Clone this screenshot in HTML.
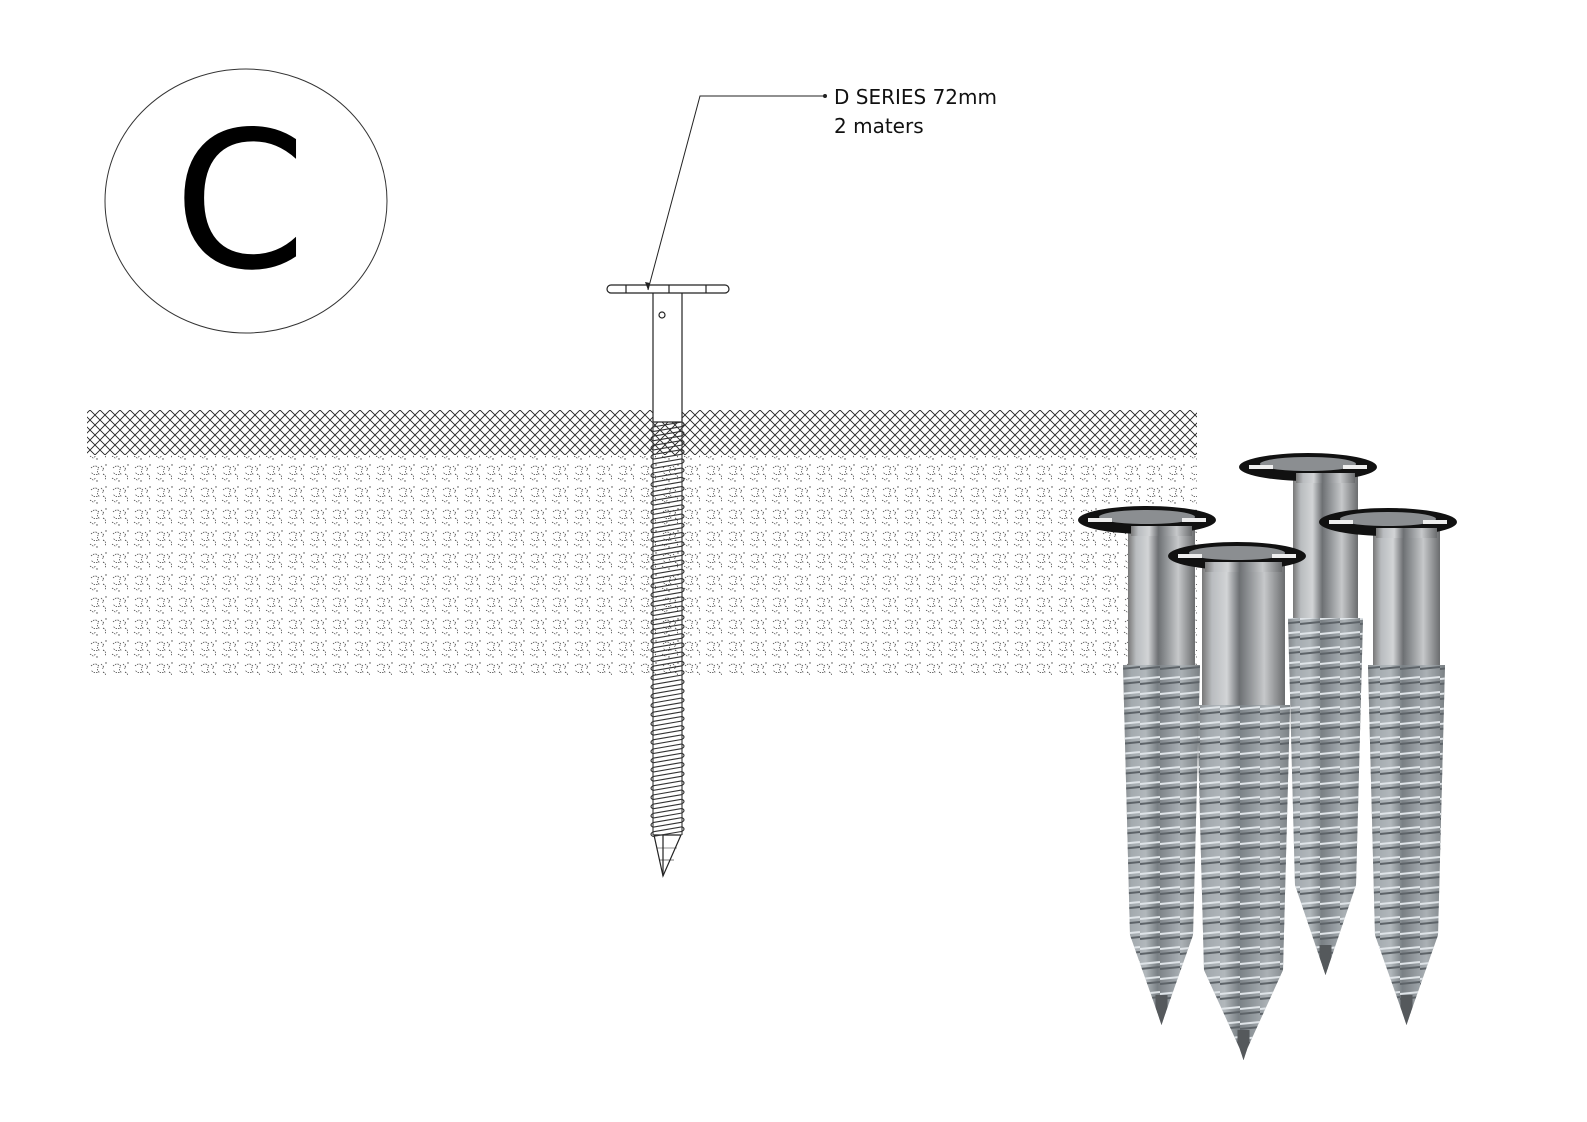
<!DOCTYPE html>
<html><head><meta charset="utf-8"><style>
html,body{margin:0;padding:0;background:#fff}
svg{display:block}
text{font-family:"DejaVu Sans","Liberation Sans",sans-serif}
</style></head><body>
<svg id="s" width="1587" height="1122" viewBox="0 0 1587 1122" xmlns="http://www.w3.org/2000/svg">
<defs>
<pattern id="hatch" width="10" height="10" patternUnits="userSpaceOnUse">
<path d="M0 0L10 10M10 0L0 10" stroke="#222" stroke-width="0.9"/>
</pattern>
<pattern id="speck" width="22" height="22" patternUnits="userSpaceOnUse">
<path d="M3 6q4-4 8 0q-3 3 0 6q-5 2-8-2M13 4l3 3l-2 2M15 12q4 2 2 6M2 16l3 2l3-2" stroke="#333" stroke-width="0.7" fill="none" stroke-dasharray="1.5 1"/>
<circle cx="18" cy="3" r="0.7" fill="#444"/><circle cx="9" cy="19" r="0.7" fill="#444"/>
</pattern>
<linearGradient id="shaft" x1="0" x2="1" y1="0" y2="0">
<stop offset="0" stop-color="#777"/><stop offset="0.12" stop-color="#b9bcbf"/>
<stop offset="0.3" stop-color="#d2d4d6"/><stop offset="0.45" stop-color="#6d7073"/>
<stop offset="0.55" stop-color="#8a8d90"/><stop offset="0.75" stop-color="#c6c8ca"/>
<stop offset="1" stop-color="#6a6c6e"/>
</linearGradient>
<pattern id="thread" width="20" height="15" patternUnits="userSpaceOnUse">
<path d="M0 4L20 2" stroke="#dfe4e8" stroke-width="2"/>
<path d="M0 9L20 7" stroke="#5d6368" stroke-width="2"/>
</pattern>
</defs>
<rect width="1587" height="1122" fill="#fff"/>
<ellipse cx="246" cy="201" rx="141" ry="132" fill="none" stroke="#333" stroke-width="1"/>
<text x="240" y="267" font-size="190" text-anchor="middle" fill="#000">C</text>

<rect x="87" y="410" width="1110" height="45" fill="url(#hatch)"/>
<rect x="87" y="455" width="1110" height="220" fill="url(#speck)"/>

<g id="drawn" stroke="#222" fill="#fff" stroke-width="1.2">
<rect x="653" y="292" width="29" height="130" fill="#fff"/>
<rect x="607" y="285" width="122" height="8" rx="4"/>
<line x1="626" y1="285" x2="626" y2="293"/><line x1="669" y1="285" x2="669" y2="293"/><line x1="706" y1="285" x2="706" y2="293"/>
<circle cx="662" cy="315" r="3"/>
<path d="M654 835L663 876L681 835Z"/>
<line x1="663" y1="835" x2="663" y2="876"/>
<line x1="657" y1="848" x2="677" y2="848" stroke-width="0.6"/><line x1="659" y1="860" x2="674" y2="860" stroke-width="0.6"/>
</g>
<g id="threads" stroke="#333" fill="none" stroke-width="1.1"></g>

<polyline points="648,290 700,96 825,96" fill="none" stroke="#222" stroke-width="1"/>
<path d="M648 290l-3-8l5 1z" fill="#222"/>
<circle cx="825" cy="96" r="2" fill="#222"/>
<text x="834" y="104" font-size="20" fill="#111">D SERIES 72mm</text>
<text x="834" y="133" font-size="20" fill="#111">2 maters</text>

<g id="photos"></g>
</svg>
<script>
var ns="http://www.w3.org/2000/svg";
function el(p,t,a){var e=document.createElementNS(ns,t);for(var k in a)e.setAttribute(k,a[k]);p.appendChild(e);return e;}
var th=document.getElementById('threads');
el(th,'line',{x1:653,y1:420,x2:653,y2:835});el(th,'line',{x1:682,y1:420,x2:682,y2:835});
for(var y=422;y<832;y+=9.2){
 el(th,'path',{d:'M653 '+(y+5)+' L682 '+y+' q4 2 0 4.6 L653 '+(y+9.6)+' q-4 -2 0 -4.6'});
}
var ph=document.getElementById('photos');
var defs=document.querySelector('defs');
var S=[[1308,467,1293,1358,618,975],[1388,522,1373,1440,665,1025],[1147,520,1128,1195,665,1025],[1237,556,1202,1285,705,1060]];
S.forEach(function(s,i){
 var cx=s[0],hy=s[1],x1=s[2],x2=s[3],ty=s[4],tip=s[5],w=x2-x1;
 var tx=(x1+x2)/2;
 var cp=el(defs,'clipPath',{id:'c'+i});
 var d='M'+(x1-5)+' '+ty+' L'+(x2+5)+' '+ty+' L'+(x2-2)+' '+(tip-90)+' L'+(tx+4)+' '+(tip-12)+' L'+tx+' '+tip+' L'+(tx-4)+' '+(tip-12)+' L'+(x1+2)+' '+(tip-90)+'Z';
 el(cp,'path',{d:d});
 el(ph,'rect',{x:x1,y:hy,width:w,height:ty-hy+2,fill:'url(#shaft)'});
 var g=el(ph,'g',{'clip-path':'url(#c'+i+')'});
 el(g,'rect',{x:x1-6,y:ty,width:w+12,height:tip-ty,fill:'url(#shaft)'});
 el(g,'rect',{x:x1-6,y:ty,width:w+12,height:tip-ty,fill:'#8a949b',opacity:0.45});
 el(g,'rect',{x:x1-6,y:ty,width:w+12,height:tip-ty,fill:'url(#thread)'});
 el(g,'rect',{x:tx-6,y:tip-30,width:12,height:30,fill:'#55595c'});
 el(ph,'ellipse',{cx:cx,cy:hy,rx:69,ry:14,fill:'#111'});
 el(ph,'ellipse',{cx:cx,cy:hy-3,rx:48,ry:7,fill:'#8b8e91'});
 el(ph,'rect',{x:cx-59,y:hy-2,width:24,height:4,fill:'#eee'});
 el(ph,'rect',{x:cx+35,y:hy-2,width:24,height:4,fill:'#eee'});
 el(ph,'rect',{x:x1+3,y:hy+6,width:w-6,height:10,fill:'url(#shaft)'});
});
</script>
</body></html>
